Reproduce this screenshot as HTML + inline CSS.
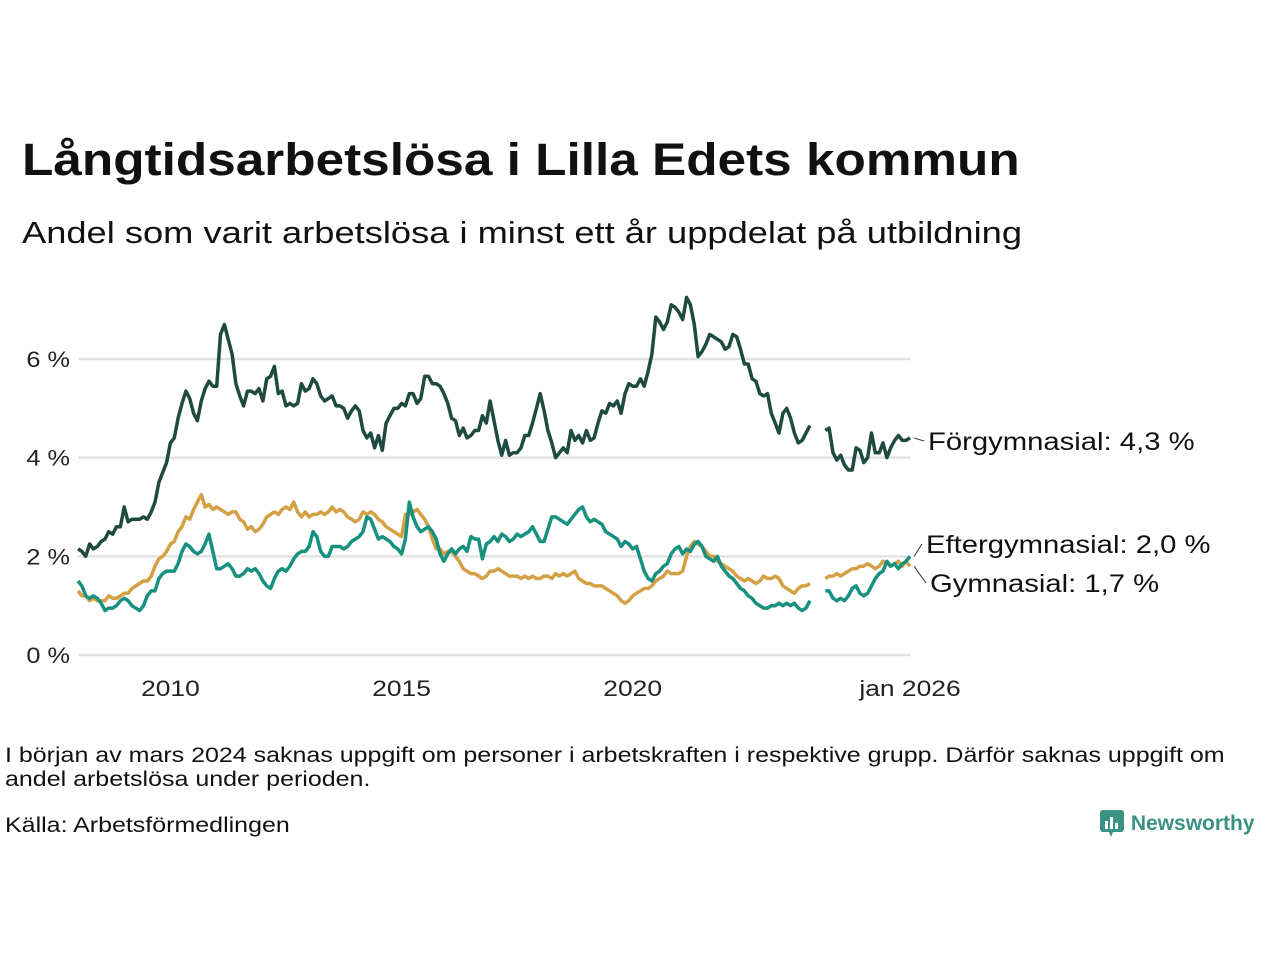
<!DOCTYPE html>
<html><head><meta charset="utf-8"><style>
body{margin:0;width:1280px;height:960px;background:#fff;font-family:"Liberation Sans",sans-serif;color:#111;position:relative;overflow:hidden}
.t{position:absolute;white-space:nowrap;transform-origin:0 0}
</style></head><body>
<div class="t" style="left:22px;top:134px;font-size:45px;font-weight:bold;transform:scaleX(1.14)">Långtidsarbetslösa i Lilla Edets kommun</div>
<div class="t" style="left:22px;top:215px;font-size:31px;transform:scaleX(1.17)">Andel som varit arbetslösa i minst ett år uppdelat på utbildning</div>
<svg id="chart" width="1280" height="720" style="position:absolute;left:0;top:0"></svg>
<div class="t" style="left:5px;top:744px;font-size:21px;line-height:24px;transform:scaleX(1.19)">I början av mars 2024 saknas uppgift om personer i arbetskraften i respektive grupp. Därför saknas uppgift om<br>andel arbetslösa under perioden.</div>
<div class="t" style="left:5px;top:814px;font-size:21px;transform:scaleX(1.19)">Källa: Arbetsförmedlingen</div>
<div class="t" style="left:1099px;top:808px;font-size:21px;font-weight:bold;color:#3a9283">
<svg width="26" height="30" style="vertical-align:-8px"><rect x="1" y="2" width="24" height="22" rx="3" fill="#3a9283"/><polygon points="10,24 14,24 12,29" fill="#3a9283"/><rect x="6" y="13" width="3" height="8" fill="#fff"/><rect x="11" y="9" width="3" height="12" fill="#fff"/><rect x="16" y="15" width="3" height="6" fill="#fff"/></svg> Newsworthy</div>
<script>
const startYear=2008, startMonth=1;
const yTicks=[0,2,4,6];
const yTickLabels=["0 %","2 %","4 %","6 %"];
const xTicks=[2010,2015,2020,2026];
const xTickLabels=["2010","2015","2020","jan 2026"];
const N=null;
const forg=[2.15,2.1,2.0,2.25,2.15,2.2,2.3,2.35,2.5,2.45,2.6,2.6,
3.0,2.7,2.75,2.75,2.75,2.8,2.75,2.9,3.1,3.5,3.7,3.9,
4.3,4.4,4.8,5.1,5.35,5.2,4.9,4.75,5.15,5.4,5.55,5.45,
5.45,6.5,6.7,6.4,6.1,5.5,5.25,5.05,5.35,5.35,5.3,5.4,
5.15,5.6,5.65,5.85,5.3,5.35,5.05,5.1,5.05,5.1,5.5,5.35,
5.4,5.6,5.5,5.25,5.15,5.2,5.25,5.05,5.05,5.0,4.8,4.95,
5.05,4.95,4.55,4.4,4.5,4.2,4.45,4.15,4.7,4.85,5.0,5.0,
5.1,5.05,5.3,5.3,5.1,5.2,5.65,5.65,5.5,5.5,5.45,5.3,
5.1,4.8,4.75,4.45,4.6,4.4,4.45,4.55,4.55,4.85,4.7,5.15,
4.75,4.35,4.05,4.35,4.05,4.1,4.1,4.2,4.45,4.45,4.7,5.0,
5.3,4.95,4.55,4.3,4.0,4.1,4.2,4.1,4.55,4.35,4.45,4.3,
4.55,4.35,4.4,4.7,4.95,4.9,5.1,5.05,5.15,4.9,5.3,5.5,
5.45,5.45,5.6,5.45,5.75,6.1,6.85,6.75,6.6,6.75,7.1,7.05,
6.95,6.8,7.25,7.1,6.7,6.05,6.15,6.3,6.5,6.45,6.4,6.35,
6.2,6.25,6.5,6.45,6.2,5.9,5.9,5.6,5.55,5.3,5.25,5.3,
4.9,4.7,4.5,4.9,5.0,4.8,4.5,4.3,4.35,4.5,4.65,N,
N,N,4.55,4.6,4.1,3.95,4.05,3.85,3.75,3.75,4.2,4.15,
3.9,4.0,4.5,4.1,4.1,4.3,4.0,4.2,4.35,4.45,4.35,4.35,4.4];
const efter=[1.5,1.4,1.2,1.15,1.2,1.15,1.05,0.9,0.95,0.95,1.0,1.1,
1.15,1.1,1.0,0.95,0.9,1.0,1.2,1.3,1.3,1.55,1.65,1.7,
1.7,1.7,1.85,2.1,2.25,2.2,2.1,2.05,2.1,2.25,2.45,2.1,
1.75,1.75,1.8,1.85,1.75,1.6,1.6,1.65,1.75,1.7,1.75,1.65,
1.5,1.4,1.35,1.55,1.7,1.75,1.7,1.8,1.95,2.05,2.1,2.1,
2.2,2.5,2.4,2.1,2.0,2.0,2.2,2.2,2.2,2.15,2.2,2.3,
2.35,2.4,2.5,2.8,2.75,2.55,2.35,2.4,2.35,2.3,2.2,2.15,
2.05,2.35,3.1,2.8,2.6,2.5,2.55,2.6,2.5,2.35,2.05,1.9,
2.05,2.15,2.05,2.15,2.2,2.1,2.4,2.35,2.35,1.95,2.25,2.3,
2.4,2.3,2.45,2.4,2.3,2.35,2.45,2.4,2.45,2.5,2.6,2.45,
2.3,2.3,2.55,2.8,2.8,2.75,2.7,2.65,2.75,2.85,2.95,3.0,
2.8,2.7,2.75,2.7,2.65,2.5,2.45,2.4,2.35,2.2,2.3,2.25,
2.15,2.2,1.95,1.7,1.55,1.5,1.65,1.7,1.8,1.85,2.05,2.15,
2.2,2.05,2.15,2.1,2.25,2.3,2.2,2.0,1.95,1.9,2.0,1.8,
1.7,1.6,1.55,1.45,1.35,1.3,1.2,1.15,1.05,1.0,0.95,0.95,
1.0,1.0,1.05,1.0,1.05,1.0,1.05,0.95,0.9,0.95,1.1,N,
N,N,1.3,1.3,1.15,1.1,1.15,1.1,1.2,1.35,1.4,1.25,
1.2,1.25,1.4,1.55,1.65,1.7,1.9,1.8,1.85,1.75,1.85,1.9,2.0];
const gymn=[1.3,1.2,1.2,1.1,1.15,1.1,1.1,1.1,1.2,1.15,1.15,1.2,
1.25,1.25,1.35,1.4,1.45,1.5,1.5,1.6,1.8,1.95,2.0,2.1,
2.25,2.3,2.5,2.6,2.8,2.75,2.95,3.1,3.25,3.0,3.05,2.95,
3.0,2.95,2.9,2.85,2.9,2.9,2.75,2.7,2.55,2.6,2.5,2.55,
2.65,2.8,2.85,2.9,2.85,2.95,3.0,2.95,3.1,2.9,2.8,2.9,
2.8,2.85,2.85,2.9,2.85,2.9,3.0,2.9,2.95,2.9,2.8,2.75,
2.7,2.75,2.9,2.85,2.9,2.85,2.75,2.7,2.6,2.55,2.5,2.45,
2.4,2.85,2.85,2.9,2.95,2.85,2.75,2.6,2.35,2.15,2.15,2.05,
2.1,2.1,2.0,1.9,1.75,1.7,1.65,1.65,1.6,1.55,1.6,1.7,
1.7,1.75,1.7,1.65,1.6,1.6,1.6,1.55,1.6,1.55,1.6,1.55,
1.55,1.6,1.6,1.55,1.65,1.6,1.65,1.6,1.65,1.7,1.55,1.5,
1.45,1.45,1.4,1.4,1.4,1.35,1.3,1.25,1.2,1.1,1.05,1.1,
1.2,1.25,1.3,1.35,1.35,1.4,1.5,1.55,1.6,1.7,1.65,1.65,
1.65,1.7,2.0,2.2,2.3,2.25,2.2,2.1,2.0,2.0,1.9,1.85,
1.8,1.75,1.7,1.6,1.55,1.5,1.55,1.5,1.45,1.5,1.6,1.55,
1.55,1.6,1.55,1.4,1.35,1.3,1.25,1.35,1.4,1.4,1.45,N,
N,N,1.55,1.6,1.6,1.65,1.6,1.65,1.7,1.75,1.75,1.8,
1.8,1.85,1.8,1.75,1.8,1.9,1.85,1.8,1.85,1.9,1.8,1.9,1.8];
const seriesNames=["Förgymnasial: 4,3 %","Eftergymnasial: 2,0 %","Gymnasial: 1,7 %"];
const ns="http://www.w3.org/2000/svg";
const svg=document.getElementById('chart');
const X0=78,X1=910,T0=startYear+(startMonth-1)/12,T1=2026;
const xs=t=>X0+(t-T0)/(T1-T0)*(X1-X0);
const ys=v=>655-v*49.33;
function mk(tag,a){const e=document.createElementNS(ns,tag);for(const k in a)e.setAttribute(k,a[k]);svg.appendChild(e);return e;}
function widen(t,f){const w=t.getComputedTextLength();t.setAttribute('textLength',(w*f).toFixed(1));t.setAttribute('lengthAdjust','spacingAndGlyphs');}
yTicks.forEach((v,i)=>{
 const l=mk('line',{x1:X0,x2:X1,y1:ys(v),y2:ys(v),stroke:'#e2e2e6','stroke-width':2.5});
 
 
 const t=mk('text',{x:70,y:ys(v)+8,'text-anchor':'end','font-size':22,fill:'#222','font-family':'Liberation Sans, sans-serif'});
 t.textContent=yTickLabels[i];
 
 
 widen(t,1.15);
});
xTicks.forEach((v,i)=>{
 const t=mk('text',{x:xs(v),y:696,'text-anchor':'middle','font-size':22,fill:'#222','font-family':'Liberation Sans, sans-serif'});
 t.textContent=xTickLabels[i];
 
 
 widen(t,1.2);
});
function draw(arr,color,name){
 let d='',pen=false;
 arr.forEach((v,i)=>{
  if(v===null){pen=false;return;}
  const t=T0+i/12;
  d+=(pen?'L':'M')+xs(t).toFixed(1)+','+ys(v).toFixed(1);pen=true;
 });
 const p=mk('path',{d:d,fill:'none',stroke:color,'stroke-width':3.5,'stroke-linejoin':'round'});
 
 
}
draw(gymn,'#d4a044','line-gymnasial');
draw(efter,'#16917f','line-eftergymnasial');
draw(forg,'#1f4a40','line-forgymnasial');
const labY=[441,544,583];
const lastVals=[forg[forg.length-1],efter[efter.length-1],gymn[gymn.length-1]];
const labX=[928,926,930];
seriesNames.forEach((s,i)=>{
 const l=mk('line',{x1:914,y1:ys(lastVals[i]),x2:labX[i]-4,y2:labY[i],stroke:'#333','stroke-width':1});
 
 
 const t=mk('text',{x:labX[i],y:labY[i]+9,'font-size':25,fill:'#111','font-family':'Liberation Sans, sans-serif'});
 t.textContent=s;
 
 
 widen(t,1.17);
});
</script>
</body></html>
